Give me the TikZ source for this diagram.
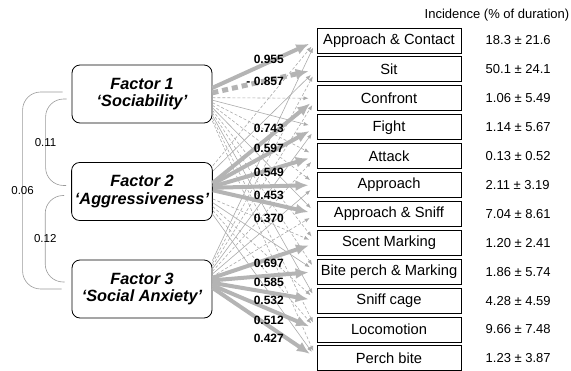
\documentclass[tikz,border=0pt]{standalone}
\usepackage{fontspec}
\setmainfont{Liberation Sans}
\usetikzlibrary{arrows.meta,positioning}
\definecolor{loadgray}{HTML}{B4B4B4}
\definecolor{thingray}{HTML}{ABABAB}
\definecolor{corrgray}{HTML}{9A9A9A}

\begin{document}
\begin{tikzpicture}[x=1pt,y=-1pt,>=Latex,
  factor/.style={draw,rounded corners=8pt,fill=white,line width=0.8pt,
    minimum width=140pt,minimum height=58pt,align=center,
    font=\fontsize{16.3}{17.8}\selectfont\bfseries\itshape},
  behav/.style={draw,line width=1pt,minimum width=144pt,minimum height=25pt,
    inner sep=0pt,font=\fontsize{14.7}{16}\selectfont},
  incid/.style={inner sep=0pt,font=\fontsize{13}{15}\selectfont},
  loading/.style={inner sep=0pt,anchor=east,font=\fontsize{12}{14}\selectfont\bfseries},
  corrlbl/.style={inner sep=0pt,font=\fontsize{11.5}{13}\selectfont},
  corr/.style={draw=corrgray,line width=0.6pt,rounded corners=18pt},
  strong/.style={draw=loadgray,line width=4pt,-{Latex[length=13pt,width=11pt]},shorten >=8pt},
  weak/.style={draw=thingray,line width=0.6pt,-{Latex[length=5pt,width=4pt]},shorten >=8pt},
  weakneg/.style={weak,dash pattern=on 3pt off 2pt}]

  \useasboundingbox (0,0) rectangle (571,370);

  \node[factor] (f1) at (142,94)    {Factor 1\\‘Sociability’};
  \node[factor] (f2) at (142,191.5) {Factor 2\\‘Aggressiveness’};
  \node[factor] (f3) at (142,289)   {Factor 3\\‘Social Anxiety’};

  \node[behav] (b1) at (389,40.5)     {Approach \& Contact};
  \node[behav,below=2.9pt of b1] (b2)  {Sit};
  \node[behav,below=2.9pt of b2] (b3)  {Confront};
  \node[behav,below=2.9pt of b3] (b4)  {Fight};
  \node[behav,below=2.9pt of b4] (b5)  {Attack};
  \node[behav,below=2.9pt of b5] (b6)  {Approach};
  \node[behav,below=2.9pt of b6] (b7)  {Approach \& Sniff};
  \node[behav,below=2.9pt of b7] (b8)  {Scent Marking};
  \node[behav,below=2.9pt of b8] (b9)  {Bite perch \& Marking};
  \node[behav,below=2.9pt of b9] (b10) {Sniff cage};
  \node[behav,below=2.9pt of b10] (b11) {Locomotion};
  \node[behav,below=2.9pt of b11] (b12) {Perch bite};

  \node[incid] (head) at (497,15) {Incidence (\% of duration)};
  \node[incid,right=24pt of b1]  (n1)  {18.3 ± 21.6};
  \node[incid,right=24pt of b2]  (n2)  {50.1 ± 24.1};
  \node[incid,right=24pt of b3]  (n3)  {1.06 ± 5.49};
  \node[incid,right=24pt of b4]  (n4)  {1.14 ± 5.67};
  \node[incid,right=24pt of b5]  (n5)  {0.13 ± 0.52};
  \node[incid,right=24pt of b6]  (n6)  {2.11 ± 3.19};
  \node[incid,right=24pt of b7]  (n7)  {7.04 ± 8.61};
  \node[incid,right=24pt of b8]  (n8)  {1.20 ± 2.41};
  \node[incid,right=24pt of b9]  (n9)  {1.86 ± 5.74};
  \node[incid,right=24pt of b10] (n10) {4.28 ± 4.59};
  \node[incid,right=24pt of b11] (n11) {9.66 ± 7.48};
  \node[incid,right=24pt of b12] (n12) {1.23 ± 3.87};

  % correlations between factors
  \draw[corr] ([shift={(-5,5)}]f1.west) -- ++(-21,0)
    |- node[corrlbl,pos=0.25] {0.11} ([shift={(-5,-6)}]f2.west);
  \draw[corr] ([shift={(-7,4)}]f2.west) -- ++(-19,0)
    |- node[corrlbl,pos=0.25] {0.12} ([shift={(-7,-7)}]f3.west);
  \draw[corr] ([shift={(-9,-2)}]f1.west) -- ++(-40,0)
    |- node[corrlbl,pos=0.25] {0.06} ([shift={(-10,0)}]f3.west);

  % weak loadings
  \draw[weakneg] (f1.-3)  -- (b3.west);
  \draw[weak]    (f1.-5)  -- (b4.west);
  \draw[weakneg] (f1.-7)  -- (b5.west);
  \draw[weakneg] (f1.-9)  -- (b6.west);
  \draw[weak]    (f1.-11) -- (b7.west);
  \draw[weakneg] (f1.-13) -- (b8.west);
  \draw[weakneg] (f1.-15) -- (b9.west);
  \draw[weak]    (f1.-17) -- (b10.west);
  \draw[weakneg] (f1.-19) -- (b11.west);
  \draw[weakneg] (f1.-21) -- (b12.west);
  \draw[weakneg] (f2.20)  -- (b1.west);
  \draw[weak]    (f2.16)  -- (b2.west);
  \draw[weakneg] (f2.-6)  -- (b8.west);
  \draw[weak]    (f2.-9)  -- (b9.west);
  \draw[weakneg] (f2.-12) -- (b10.west);
  \draw[weakneg] (f2.-15) -- (b11.west);
  \draw[weak]    (f2.-18) -- (b12.west);
  \draw[weak]    (f3.22)  -- (b1.west);
  \draw[weakneg] (f3.20)  -- (b2.west);
  \draw[weakneg] (f3.18)  -- (b3.west);
  \draw[weak]    (f3.16)  -- (b4.west);
  \draw[weakneg] (f3.14)  -- (b5.west);
  \draw[weak]    (f3.12)  -- (b6.west);
  \draw[weakneg] (f3.10)  -- (b7.west);

  % strong loadings
  \draw[strong] (f1.5) -- (b1.west);
  \draw[strong,line width=5pt,dash pattern=on 6pt off 4pt] (f1.1) -- (b2.west);
  \draw[strong] (f2.7) -- (b3.west);
  \draw[strong] (f2.6) -- (b4.west);
  \draw[strong] (f2.4) -- (b5.west);
  \draw[strong] (f2.3) -- (b6.west);
  \draw[strong] (f2.1) -- (b7.west);
  \draw[strong] (f3.9) -- (b8.west);
  \draw[strong] (f3.7) -- (b9.west);
  \draw[strong] (f3.5) -- (b10.west);
  \draw[strong] (f3.3) -- (b11.west);
  \draw[strong] (f3.1) -- (b12.west);

  \node[loading] (l1)  at (284,59)  {0.955};
  \node[loading] (l2)  at (284,81)  {- 0.857};
  \node[loading] (l3)  at (284,128) {0.743};
  \node[loading] (l4)  at (284,148) {0.597};
  \node[loading] (l5)  at (284,172) {0.549};
  \node[loading] (l6)  at (284,195) {0.453};
  \node[loading] (l7)  at (284,218) {0.370};
  \node[loading] (l8)  at (284,263) {0.697};
  \node[loading] (l9)  at (284,282) {0.585};
  \node[loading] (l10) at (284,300) {0.532};
  \node[loading] (l11) at (284,320) {0.512};
  \node[loading] (l12) at (284,338) {0.427};
\end{tikzpicture}
\end{document}
